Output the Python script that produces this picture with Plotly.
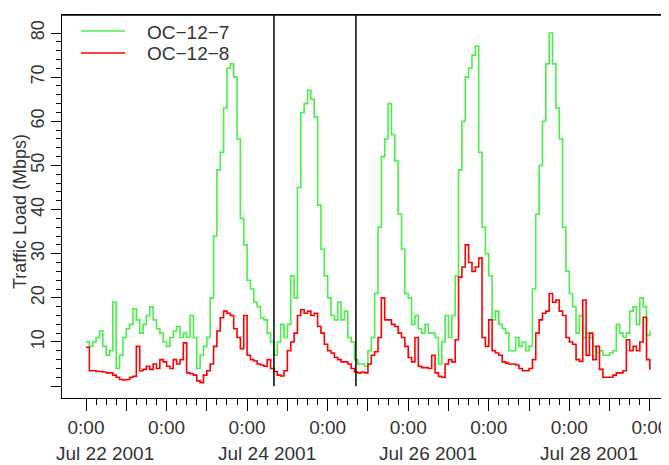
import pandas as pd
import plotly.graph_objects as go

# ---------------- data (hourly, starting Jul 22 2001 0:00) ----------------
start_time = "2001-07-22 00:00"
oc_12_7 = [
    10, 9, 10, 11, 12.5, 9, 7, 8, 19, 4,
    7, 11, 13, 14, 17.5, 15, 12, 14, 16, 18,
    15, 13, 12, 10, 9, 11, 12.5, 13.5, 11, 12,
    11, 16, 11, 4, 7, 9, 11, 20, 34, 49,
    53, 63, 72, 73, 70, 56, 38, 32, 24, 22,
    19, 18, 15.5, 15, 12, 10, 7, 10, 14, 11,
    14, 25, 20, 45, 62, 64, 67, 65, 61, 41,
    31, 25, 20, 16, 15, 19, 15, 17, 11, 10,
    6, 5, 5, 4.5, 8, 11, 21, 36, 52, 56,
    64, 57, 51, 39, 31, 21, 20, 14, 16, 13,
    12, 14, 12, 12, 11, 5, 10, 16, 11, 16,
    25, 49, 60, 70, 72, 75, 77, 53, 36, 30,
    25, 15, 17, 14, 13, 12, 8, 8, 11, 9,
    10, 8, 9, 22, 39, 50, 60, 73, 80, 73,
    63, 56, 36, 26, 21, 18, 12, 16, 11, 12,
    11, 9, 7.5, 8, 7, 7, 7.5, 8, 14, 12,
    11, 12, 17, 18, 14, 20, 18, 11.5, 12.5,
]
oc_12_8 = [
    8.8, 3.5, 3.5, 3.3, 3.3, 3.2, 3.0, 3.0, 2.5, 2,
    1.5, 1.4, 1.5, 2, 2.2, 9, 3.5, 3.8, 4.5, 3.8,
    5, 4, 6, 5.5, 4.5, 4, 6, 5, 6, 9.8,
    3, 2.8, 2.5, 1.2, 0.8, 2.5, 3.5, 5, 9, 12.5,
    15.5, 17, 16.5, 16, 13, 11, 8.5, 16, 7, 6,
    5.7, 5, 4.8, 4.5, 6, 4, 3.3, 2.5, 2.3, 3.5,
    8, 10, 12, 16, 17.3, 16.5, 17, 16, 16.5, 13.5,
    12, 9.5, 8, 7.5, 6.5, 6, 5.5, 5.5, 5, 4,
    3.2, 3, 3.2, 3, 5, 7, 7.8, 11, 20, 15,
    15, 14, 13.5, 12, 11, 9, 6.5, 5.5, 11, 4.5,
    4.2, 4.2, 4, 7, 3, 2.2, 2, 5, 6, 5.5,
    10.5, 24.7, 27, 32, 28, 26, 27, 29, 11, 9,
    15, 8, 7.5, 7, 5.5, 5.2, 5, 5, 4.8, 4,
    3.5, 3.5, 4, 6, 12, 15, 16.5, 17, 21, 19,
    19.5, 17, 16, 11, 10, 9.5, 6, 5.6, 19.5, 7,
    12, 6, 9, 3.8, 2, 2, 2, 2.5, 3, 3,
    3.5, 10.5, 8, 9, 8, 10, 15.6, 6, 3.7,
]
series_names = ["OC\u221212\u22127", "OC\u221212\u22128"]
series_colors = ["#46f046", "#ff0000"]
marker_times = ["2001-07-24 08:00", "2001-07-25 08:25"]
date_labels = ["Jul 22 2001", "Jul 24 2001", "Jul 26 2001", "Jul 28 2001"]
date_label_days = ["2001-07-22", "2001-07-24", "2001-07-26", "2001-07-28"]
y_major = [0, 10, 20, 30, 40, 50, 60, 70, 80]
y_labels = ["", "10", "20", "30", "40", "50", "60", "70", "80"]

times = pd.date_range(start_time, periods=len(oc_12_7), freq="h")

# ---------------- geometry ----------------
# The page body has an 8px default margin, so the figure is laid out
# 8px smaller and every window-pixel position is shifted by that offset.
OFF = 8
W, H = 669 - OFF, 465 - OFF
PLOT_L, PLOT_T, PLOT_B = 62, 15, 398          # window pixels
ML, MR, MT = PLOT_L - OFF, 0, PLOT_T - OFF
MB = H - (PLOT_B - OFF)
PW, PH = W - ML - MR, H - MT - MB
Y_TOP = 84.08


def px(x):  # window pixel -> paper x
    return (x - PLOT_L) / PW


def py(y):  # window pixel -> paper y
    return (PLOT_B - y) / PH


FONT = "Liberation Sans, Arial, sans-serif"
TXT = "#333333"
FS_H = 19   # horizontal texts
FS_V = 18   # rotated texts

fig = go.Figure()
for vals, name, col in zip([oc_12_7, oc_12_8], series_names, series_colors):
    fig.add_trace(go.Scatter(
        x=times, y=vals, mode="lines", name=name,
        line=dict(color=col, width=1.6, shape="hv"),
        showlegend=False,
    ))

# x ticks
t0 = pd.Timestamp(start_time)
major_x = [t0 + pd.Timedelta(hours=12 * i) for i in range(15)]
major_txt = ["0:00" if i % 2 == 0 else "" for i in range(15)]
minor_x = [t0 + pd.Timedelta(hours=3 * i) for i in range(57) if i % 4 != 0]
minor_y = [v for v in range(2, 80, 2) if v % 10 != 0]

fig.update_layout(
    template="none",
    width=W, height=H, autosize=False,
    margin=dict(l=ML, r=MR, t=MT, b=MB, pad=0, autoexpand=False),
    paper_bgcolor="white", plot_bgcolor="white",
    font=dict(family=FONT, size=FS_H, color=TXT),
    xaxis=dict(
        type="date", automargin=False,
        range=[t0 - pd.Timedelta(hours=7.15), t0 + pd.Timedelta(hours=173.7)],
        showline=True, linecolor="black", linewidth=1.2, mirror=True,
        showgrid=False, zeroline=False,
        tickmode="array", tickvals=major_x, ticktext=major_txt,
        ticks="outside", ticklen=12, tickwidth=1.2, tickcolor="black",
        tickfont=dict(family=FONT, size=FS_H, color=TXT),
        minor=dict(tickmode="array", tickvals=minor_x, ticks="outside",
                   ticklen=6, tickwidth=1.2, tickcolor="black", showgrid=False),
    ),
    yaxis=dict(
        automargin=False,
        range=[-2.69, Y_TOP],
        showline=True, linecolor="black", linewidth=1.2, mirror=False,
        showgrid=False, zeroline=False,
        tickmode="array", tickvals=y_major, ticktext=y_labels,
        ticks="outside", ticklen=10, tickwidth=1.2, tickcolor="black",
        tickangle=-90,
        tickfont=dict(family=FONT, size=FS_V, color=TXT),
        minor=dict(tickmode="array", tickvals=minor_y, ticks="outside",
                   ticklen=5, tickwidth=1.2, tickcolor="black", showgrid=False),
    ),
)

# top frame line
fig.add_shape(type="line", xref="paper", yref="paper", x0=0, x1=1, y0=1, y1=1,
              line=dict(color="black", width=1.4))

# vertical event markers
for mt in marker_times:
    fig.add_shape(type="line", xref="x", yref="y", x0=mt, x1=mt, y0=0, y1=Y_TOP,
                  line=dict(color="black", width=1.5))

# date labels under the time ticks
for d, lab in zip(date_label_days, date_labels):
    fig.add_annotation(x=pd.Timestamp(d) + pd.Timedelta(hours=5.8), y=py(453),
                       xref="x", yref="paper", text=lab, showarrow=False,
                       xanchor="center", yanchor="middle", borderpad=0,
                       font=dict(family=FONT, size=FS_H, color=TXT))

# y title
fig.add_annotation(x=px(20), y=py(212), xref="paper", yref="paper",
                   text="Traffic Load (Mbps)", textangle=-90, showarrow=False,
                   xanchor="center", yanchor="middle",
                   font=dict(family=FONT, size=FS_V, color=TXT))

# legend (drawn manually)
for i, (name, col) in enumerate(zip(series_names, series_colors)):
    yy = 31 + 22 * i
    fig.add_shape(type="line", xref="paper", yref="paper",
                  x0=px(81), x1=px(125), y0=py(yy), y1=py(yy),
                  line=dict(color=col, width=1.6))
    fig.add_annotation(x=px(145), y=py(yy + 1), xref="paper", yref="paper",
                       text=name, showarrow=False, xanchor="left", yanchor="middle",
                       font=dict(family=FONT, size=FS_H, color=TXT))

fig.write_html("out.html")
